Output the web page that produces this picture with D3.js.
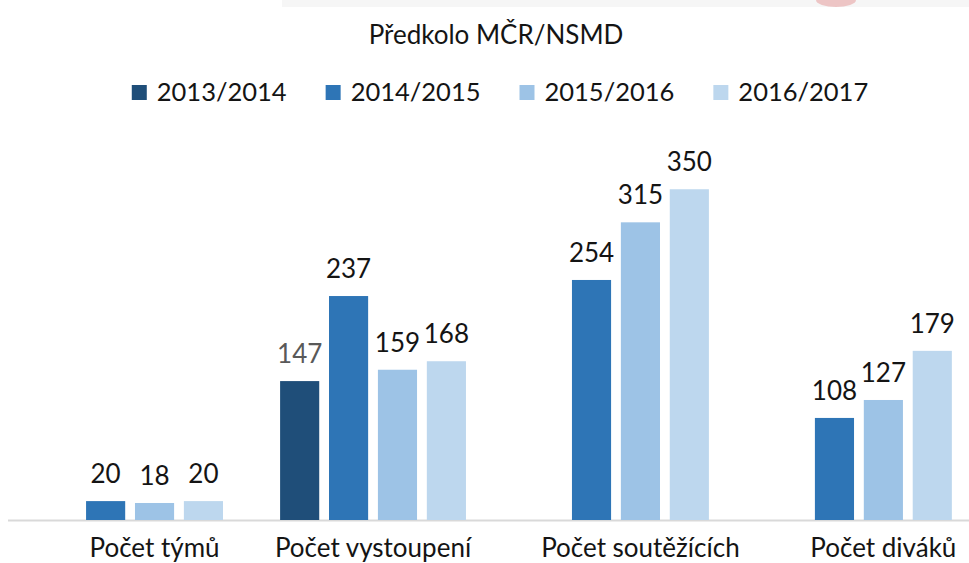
<!DOCTYPE html>
<html>
<head>
<meta charset="utf-8">
<script src="https://cdn.jsdelivr.net/npm/d3@7"></script>
<style>
  body { margin: 0; background: #fff; }
  svg { display: block; font-family: Lato, "Open Sans", sans-serif; }
</style>
</head>
<body>
<script>
// Chart data
const categories = ['Počet týmů', 'Počet vystoupení', 'Počet soutěžících', 'Počet diváků'];
const seasons = ['2013/2014', '2014/2015', '2015/2016', '2016/2017'];
const values2013 = [null, 147, null, null];
const values2014 = [20, 237, 254, 108];
const values2015 = [18, 159, 315, 127];
const values2016 = [20, 168, 350, 179];
const seriesColors = ['#1f4e79', '#2e75b6', '#9dc3e6', '#bdd7ee'];
const chartTitle = 'Předkolo MČR/NSMD';

const seriesValues = [values2013, values2014, values2015, values2016];

const width = 969, height = 563;
const baseline = 520;

const svg = d3.select('body').append('svg')
    .attr('width', width)
    .attr('height', height);

// faint strip left over at the top of the screenshot
svg.append('rect')
    .attr('x', 282).attr('y', 0)
    .attr('width', width - 282).attr('height', 7)
    .attr('fill', '#f6f6f6');
svg.append('ellipse')
    .attr('cx', 836).attr('cy', 0)
    .attr('rx', 20).attr('ry', 7)
    .attr('fill', '#eab0b0')
    .attr('opacity', 0.7);

// Scales
const x0 = d3.scaleBand()
    .domain(categories)
    .range([8, 981])
    .paddingInner(0.235)
    .paddingOuter(0.12);

const x1 = d3.scaleBand()
    .domain(seasons)
    .range([0, x0.bandwidth()])
    .paddingInner(0.2);

const y = d3.scaleLinear()
    .domain([0, 400])
    .range([baseline, 142]);

// Title
svg.append('text')
    .attr('x', 496)
    .attr('y', 44)
    .attr('text-anchor', 'middle')
    .style('font-size', '26px')
    .style('fill', '#141414')
    .text(chartTitle);

// Legend
const legend = svg.append('g');
let lx = 0;
seasons.forEach((s, i) => {
    const item = legend.append('g').attr('transform', `translate(${lx},0)`);
    item.append('rect')
        .attr('x', 0).attr('y', 85)
        .attr('width', 15).attr('height', 15)
        .attr('fill', seriesColors[i]);
    const t = item.append('text')
        .attr('x', 25).attr('y', 101)
        .style('font-size', '25.5px')
        .style('fill', '#141414')
        .text(s);
    lx += 25 + t.node().getComputedTextLength() + 39;
});
const legendWidth = lx - 39;
legend.attr('transform', `translate(${500 - legendWidth / 2},0)`);

// Axis line
svg.append('line')
    .attr('x1', 8).attr('x2', width)
    .attr('y1', baseline + 0.5).attr('y2', baseline + 0.5)
    .attr('stroke', '#d9d9d9')
    .attr('stroke-width', 2);

// Bars and value labels
const groups = svg.selectAll('.group')
    .data(categories)
    .enter().append('g')
    .attr('class', 'group')
    .attr('transform', d => `translate(${x0(d)},0)`);

groups.each(function(cat, ci) {
    const g = d3.select(this);
    const bars = seasons
        .map((s, si) => ({ season: s, value: seriesValues[si][ci], color: seriesColors[si] }))
        .filter(d => d.value !== null);

    g.selectAll('rect')
        .data(bars)
        .enter().append('rect')
        .attr('x', d => x1(d.season))
        .attr('y', d => y(d.value))
        .attr('width', x1.bandwidth())
        .attr('height', d => baseline - y(d.value))
        .attr('fill', d => d.color);

    g.selectAll('.value')
        .data(bars)
        .enter().append('text')
        .attr('class', 'value')
        .attr('x', d => x1(d.season) + x1.bandwidth() / 2)
        .attr('y', d => y(d.value) - 18)
        .attr('text-anchor', 'middle')
        .style('font-size', '26px')
        .style('fill', d => d.season === '2013/2014' ? '#595959' : '#141414')
        .text(d => d.value);

    // category label sits under the bars that are actually drawn
    const left = d3.min(bars, d => x1(d.season));
    const right = d3.max(bars, d => x1(d.season) + x1.bandwidth());
    g.append('text')
        .attr('x', (left + right) / 2)
        .attr('y', 557)
        .attr('text-anchor', 'middle')
        .style('font-size', '26px')
        .style('fill', '#141414')
        .text(cat);
});
</script>
</body>
</html>
